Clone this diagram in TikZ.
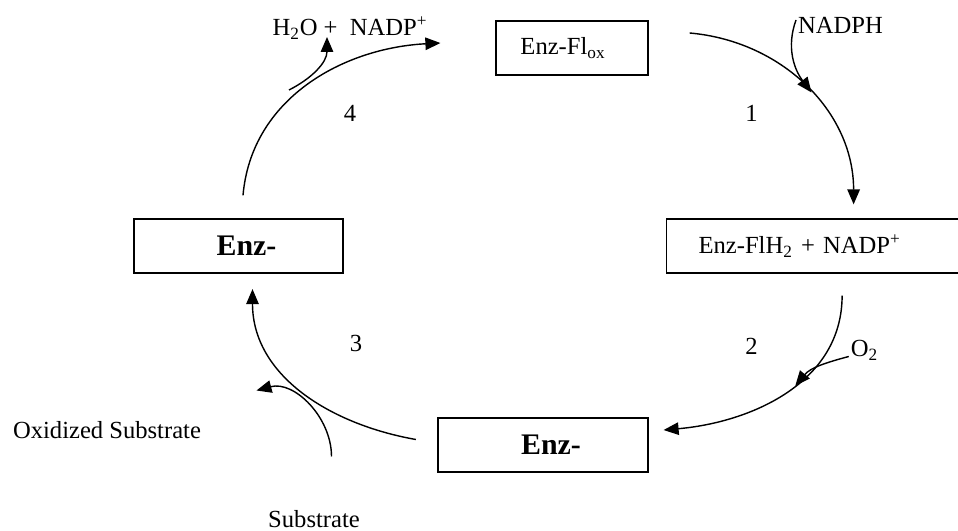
\documentclass[tikz,border=0pt]{standalone}
\usepackage{fontspec}
\setmainfont{Liberation Serif}
\usetikzlibrary{arrows.meta}

\begin{document}
\begin{tikzpicture}[
  box/.style={draw, line width=0.7pt, minimum height=1.08cm, inner sep=0pt, font=\fontsize{14}{17}\selectfont},
  boldBox/.style={box, font=\fontsize{17}{20}\selectfont\bfseries},
  lbl/.style={inner sep=1pt, font=\fontsize{14}{17}\selectfont},
  e/.style={line width=0.8pt, -{Triangle[length=3mm,width=2.5mm]}}
]
\useasboundingbox (0,0) rectangle (19.16,10.62);
\clip (0,0) rectangle (19.16,10.62);

% --- enzyme states ---
\node[box, minimum width=3.04cm] (flox) at (11.44,9.66) {Enz-Fl\textsubscript{ox}\hspace*{0.36cm}};
\node[box, anchor=west, text width=4.8cm, inner xsep=0.64cm, align=left] (flh) at (13.32,5.70) {Enz-FlH\textsubscript{2} + NADP\textsuperscript{+}};
\node[boldBox, minimum width=4.2cm] (enzB) at (10.86,1.72) {\hspace*{0.32cm}Enz-};
\node[boldBox, minimum width=4.18cm] (enzL) at (4.77,5.70) {\hspace*{0.32cm}Enz-};

% --- side labels ---
\node[lbl] (nadph) at (16.81,10.12) {NADPH};
\node[lbl] (o2) at (17.29,3.62) {O\textsubscript{2}};
\node[lbl] (oxsub) at (2.14,2.02) {Oxidized Substrate};
\node[lbl] (sub) at (6.28,0.23) {Substrate};
\node[lbl] (h2o) at (7.0,10.06) {H\textsubscript{2}O +\ \ NADP\textsuperscript{+}};

% --- step numbers ---
\node[lbl] (n1) at (15.03,8.36) {1};
\node[lbl] (n2) at (15.03,3.69) {2};
\node[lbl] (n3) at (7.12,3.76) {3};
\node[lbl] (n4) at (7.0,8.36) {4};

% --- cycle ---
\draw[e] ([xshift=0.82cm,yshift=0.3cm]flox.east) to[out=-5,in=90] coordinate[pos=0.53] (m1) ([xshift=0.7cm,yshift=0.28cm]flh.north);
\draw[e] ([xshift=0.47cm,yshift=-0.44cm]flh.south) to[out=-90,in=5] coordinate[pos=0.45] (m2) ([xshift=0.3cm,yshift=0.3cm]enzB.east);
\draw[e] ([xshift=-0.43cm,yshift=0.11cm]enzB.west) to[out=170,in=-90] ([xshift=0.28cm,yshift=-0.31cm]enzL.south);
\draw[e] ([xshift=0.09cm,yshift=0.46cm]enzL.north) to[out=85,in=183] ([xshift=-1.1cm,yshift=0.1cm]flox.west);

% --- reactants in, products out ---
\coordinate (subTail) at (6.63,1.49);
\coordinate (oxTip) at (5.13,2.81);
\coordinate (h2oTail) at (5.78,8.82);
\coordinate (h2oTip) at (6.54,9.88);

\draw[e] ([yshift=0.1cm]nadph.west) to[out=-110,in=127] (m1);
\draw[e] ([yshift=-0.13cm]o2.west) to[out=195,in=50] (m2);
\draw[e] (subTail) to[out=90,in=15] (oxTip);
\draw[e] (h2oTail) to[out=27,in=-90] (h2oTip);

\end{tikzpicture}
\end{document}
